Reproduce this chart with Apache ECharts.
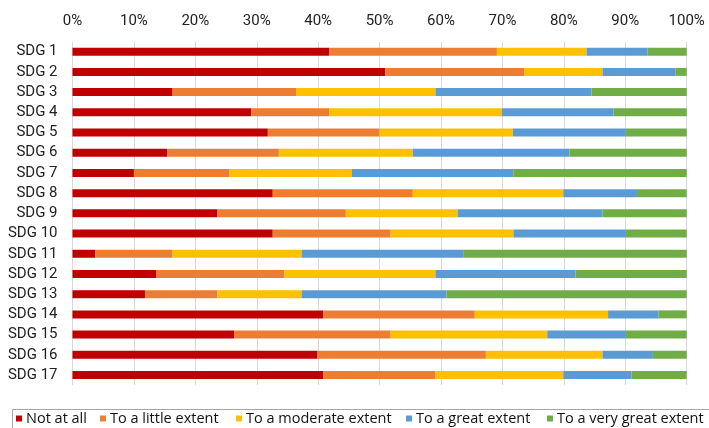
<!DOCTYPE html>
<html>
<head>
<meta charset="utf-8">
<script src="https://cdn.jsdelivr.net/npm/echarts@6/dist/echarts.min.js"></script>
<style>
  html, body { margin: 0; padding: 0; background: #fff; }
  #chart { width: 709px; height: 428px; }
</style>
</head>
<body>
<div id="chart"></div>
<script>
// Share of responses per SDG (percent, each row sums to 100)
const categories = ['SDG 1','SDG 2','SDG 3','SDG 4','SDG 5','SDG 6','SDG 7','SDG 8','SDG 9',
  'SDG 10','SDG 11','SDG 12','SDG 13','SDG 14','SDG 15','SDG 16','SDG 17'];

const seriesNames = ['Not at all','To a little extent','To a moderate extent','To a great extent','To a very great extent'];
const seriesColors = ['#C00000','#ED7D31','#FFC000','#5B9BD5','#70AD47'];

const notAtAll       = [41.8, 50.9, 16.3, 29.1, 31.8, 15.4, 10.0, 32.6, 23.6, 32.6,  3.7, 13.6, 11.8, 40.8, 26.3, 39.9, 40.8];
const littleExtent   = [27.3, 22.7, 20.1, 12.7, 18.2, 18.2, 15.5, 22.8, 20.9, 19.2, 12.6, 20.9, 11.8, 24.7, 25.5, 27.4, 18.3];
const moderateExtent = [14.6, 12.7, 22.7, 28.1, 21.7, 21.8, 20.0, 24.5, 18.2, 20.0, 21.0, 24.6, 13.7, 21.7, 25.5, 19.0, 20.8];
const greatExtent    = [ 9.9, 11.9, 25.4, 18.2, 18.4, 25.5, 26.3, 12.0, 23.6, 18.3, 26.3, 22.8, 23.6,  8.2, 12.8,  8.2, 11.1];
const veryGreat      = [ 6.4,  1.8, 15.5, 11.9,  9.9, 19.1, 28.2,  8.1, 13.7,  9.9, 36.4, 18.1, 39.1,  4.6,  9.9,  5.5,  9.0];

const tickValues = [0,10,20,30,40,50,60,70,80,90,100];

const seriesValues = [notAtAll, littleExtent, moderateExtent, greatExtent, veryGreat];

// left edge of each legend entry along the bottom strip
const legendLefts = [16, 100, 236, 406, 547];

const chart = echarts.init(document.getElementById('chart'), null, { renderer: 'canvas' });

chart.setOption({
  animation: false,
  backgroundColor: '#ffffff',
  grid: { left: 72.5, right: 22.3, top: 41.6, bottom: 42.9, containLabel: false },
  xAxis: {
    type: 'value',
    position: 'top',
    min: tickValues[0],
    max: tickValues[tickValues.length - 1],
    interval: tickValues[1] - tickValues[0],
    axisLine: { show: false },
    axisTick: { show: false },
    axisLabel: {
      formatter: '{value}%',
      fontFamily: 'Roboto',
      fontSize: 15,
      color: '#222',
      margin: 13
    },
    splitLine: { show: true, lineStyle: { color: '#d9d9d9', width: 1 } }
  },
  yAxis: {
    type: 'category',
    inverse: true,
    data: categories,
    axisLine: { show: false },
    axisTick: { show: false },
    axisLabel: {
      fontFamily: 'Roboto',
      fontSize: 15,
      color: '#222',
      margin: 15
    }
  },
  // frame around the legend strip
  graphic: [{
    type: 'rect',
    silent: true,
    shape: { x: 12.5, y: 409.5, width: 740, height: 40 },
    style: { fill: 'none', stroke: '#a6a6a6', lineWidth: 1 }
  }],
  legend: seriesNames.map((name, i) => ({
    left: legendLefts[i],
    top: 411,
    padding: 0,
    itemWidth: 6,
    itemHeight: 6,
    icon: 'rect',
    textStyle: { fontFamily: 'Open Sans', fontSize: 14.5, color: '#111', padding: [0, 0, 0, -1] },
    data: [name]
  })),
  series: seriesNames.map((name, i) => ({
    name: name,
    type: 'bar',
    stack: 'total',
    barWidth: 8,
    itemStyle: { color: seriesColors[i] },
    data: seriesValues[i]
  }))
});
</script>
</body>
</html>
